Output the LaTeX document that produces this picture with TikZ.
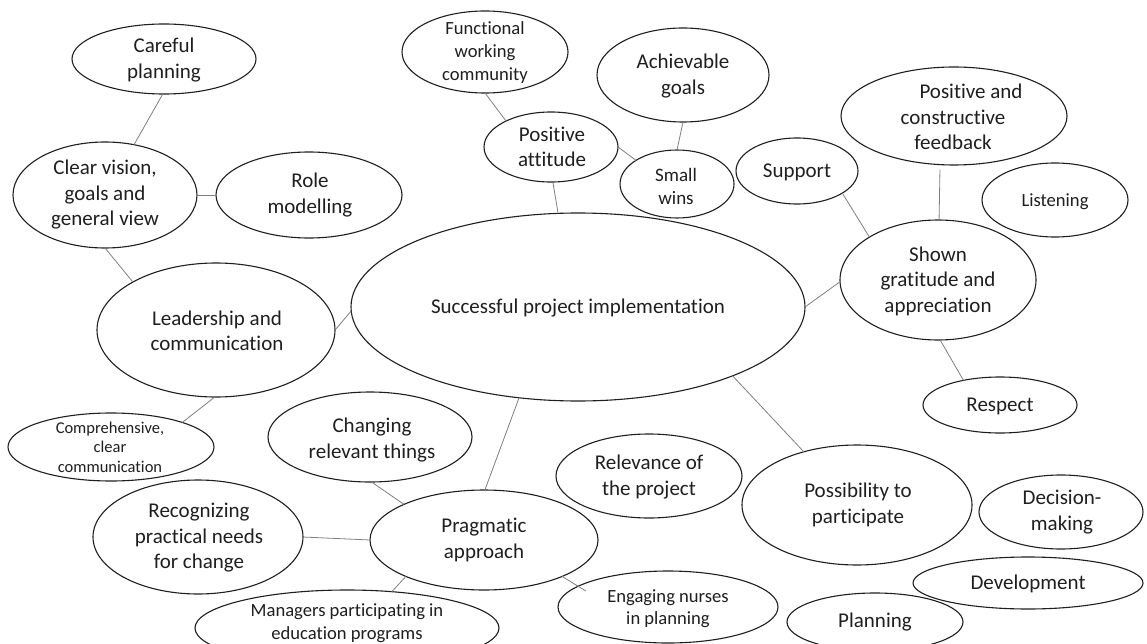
\documentclass[tikz,border=0pt]{standalone}
\usepackage{fontspec}
\setmainfont{Carlito}[Ligatures={NoCommon}]
\usetikzlibrary{shapes.geometric}
\tikzset{
  oval/.style={draw=black!88, line width=1.1pt, ellipse, inner sep=0pt, outer sep=0pt},
  lbl/.style={align=center, inner sep=0pt, text=black!88, font=\fontsize{21}{25.5}\selectfont},
  lblsm/.style={lbl, font=\fontsize{18.6}{23}\selectfont},
  lblxs/.style={lbl, font=\fontsize{16.5}{19.5}\selectfont},
  link/.style={draw=black!50, line width=0.8pt},
}
\begin{document}
\begin{tikzpicture}[x=1pt,y=-1pt]
\useasboundingbox (0,0) rectangle (1147,644);
\fill[white] (0,0) rectangle (1147,644);
\clip (0,0) rectangle (1147,644);

% ---- ellipses ----
\node[oval, minimum width=184pt, minimum height=70pt]  (careful)   at (164,59)  {};
\node[oval, minimum width=184pt, minimum height=106pt] (clear)     at (105,195) {};
\node[oval, minimum width=186pt, minimum height=86pt]  (role)      at (309,195) {};
\node[oval, minimum width=238pt, minimum height=134pt] (lead)      at (216,330) {};
\node[oval, minimum width=206pt, minimum height=68pt]  (comp)      at (111,447) {};
\node[oval, minimum width=166pt, minimum height=82pt]  (func)      at (485,52)  {};
\node[oval, minimum width=172pt, minimum height=94pt]  (achv)      at (683,75)  {};
\node[oval, minimum width=134pt, minimum height=70pt]  (posatt)    at (551,147) {};
\node[oval, minimum width=114pt, minimum height=68pt]  (wins)      at (677,184) {};
\node[oval, minimum width=122pt, minimum height=66pt]  (support)   at (797,171) {};
\node[oval, minimum width=226pt, minimum height=98pt]  (feedback)  at (954,116) {};
\node[oval, minimum width=146pt, minimum height=74pt]  (listen)    at (1055,200) {};
\node[oval, minimum width=196pt, minimum height=120pt] (shown)     at (938,280) {};
\node[oval, minimum width=154pt, minimum height=56pt]  (respect)   at (1000,405) {};
\node[oval, minimum width=454pt, minimum height=188pt] (central)   at (578,307) {};
\node[oval, minimum width=204pt, minimum height=90pt]  (changing)  at (370,437) {};
\node[oval, minimum width=210pt, minimum height=114pt] (recog)     at (198,537) {};
\node[oval, minimum width=228pt, minimum height=100pt] (prag)      at (484,540) {};
\node[oval, minimum width=304pt, minimum height=76pt]  (managers)  at (347,628) {};
\node[oval, minimum width=186pt, minimum height=84pt]  (relevance) at (649,476) {};
\node[oval, minimum width=220pt, minimum height=72pt]  (engaging)  at (668,607) {};
\node[oval, minimum width=230pt, minimum height=120pt] (possib)    at (857,505) {};
\node[oval, minimum width=164pt, minimum height=74pt]  (decision)  at (1061,512) {};
\node[oval, minimum width=230pt, minimum height=52pt]  (devel)     at (1028,583) {};
\node[oval, minimum width=176pt, minimum height=58pt]  (planning)  at (875,622) {};

% ---- texts ----
\node[lbl]   (careful-t)   at (164,60)  {Careful\\planning};
\node[lbl]   (clear-t)     at (105,195) {Clear vision,\\goals and\\general view};
\node[lbl]   (role-t)      at (310,195) {Role\\modelling};
\node[lbl]   (lead-t)      at (217,331) {Leadership and\\communication};
\node[lblxs] (comp-t)      at (110,447) {Comprehensive,\\clear\\communication};
\node[lblsm] (func-t)      at (485,53)  {Functional\\working\\community};
\node[lbl]   (achv-t)      at (683,76)  {Achievable\\goals};
\node[lbl]   (posatt-t)    at (552,147) {Positive\\attitude};
\node[lbl, font=\fontsize{19}{23}\selectfont] (wins-t) at (676,186) {Small\\wins};
\node[lbl]   (support-t)   at (797,172) {Support};
\node[lbl]   (feedback-t)  at (953,117) {\hspace*{36pt}Positive and\\constructive\\feedback};
\node[lblsm] (listen-t)    at (1055,202) {Listening};
\node[lbl]   (shown-t)     at (938,281) {Shown\\gratitude and\\appreciation};
\node[lbl]   (respect-t)   at (1000,406) {Respect};
\node[lbl]   (central-t)   at (578,308) {Successful project implementation};
\node[lbl]   (changing-t)  at (372,440) {Changing\\relevant things};
\node[lbl]   (recog-t)     at (199,538) {Recognizing\\practical needs\\for change};
\node[lbl]   (prag-t)      at (484,540) {Pragmatic\\approach};
\node[lbl, font=\fontsize{18.6}{23.5}\selectfont] (managers-t) at (347,623) {Managers participating in\\education programs};
\node[lbl]   (relevance-t) at (649,477) {Relevance of\\the project};
\node[lbl, font=\fontsize{18.6}{22}\selectfont] (engaging-t) at (668,609) {Engaging nurses\\in planning};
\node[lbl]   (possib-t)    at (858,505) {Possibility to\\participate};
\node[lbl]   (decision-t)  at (1062,512) {Decision-\\making};
\node[lbl]   (devel-t)     at (1028,584) {Development};
\node[lbl]   (planning-t)  at (875,622) {Planning};

% ---- connectors ----
\draw[link] (careful.-92) -- (clear.60);
\draw[link] (clear.0) -- (role.180);
\draw[link] (clear.-90) -- (lead.150);
\draw[link] (lead.0) -- (central.181);
\draw[link] (lead.-91) -- (comp.19);
\draw[link] (func.-90) -- (posatt.150);
\draw[link] (posatt.0) -- (wins.150);
\draw[link] (achv.-90) -- (wins.90);
\draw[link] (posatt.-87) -- (central.102);
\draw[link] (central.0) -- (shown.181);
\draw[link] (support.-26) -- (shown.148);
\draw[link, shorten <=5pt] (feedback.-106) -- (shown.89);
\draw[link] (shown.-88) -- (respect.146);
\draw[link] (central.-123) -- (prag.89);
\draw[link] (changing.-88) -- (prag.156);
\draw[link] (recog.0) -- (prag.180);
\draw[link] (managers.39) -- (prag.205);
\draw[link, shorten >=-9pt] (prag.-25) -- (engaging.167);
\draw[link] (central.-24) -- (possib.135);
\end{tikzpicture}
\end{document}
